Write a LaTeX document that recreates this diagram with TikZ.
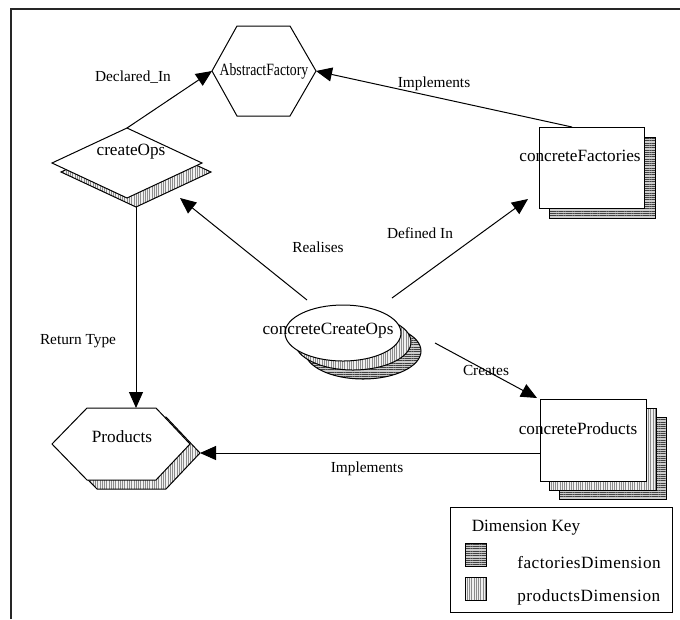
\documentclass[tikz,border=0pt]{standalone}
\usepackage{fontspec}
\usepackage{graphicx}
\setmainfont{Liberation Serif}
\usetikzlibrary{arrows.meta,patterns.meta}

\begin{document}
\begin{tikzpicture}[x=0.75pt,y=-0.75pt,
  outline/.style={draw=black,line width=0.75pt},
  plain/.style={outline,fill=white},
  prodshade/.style={outline,preaction={fill=gray!12},
    pattern={Lines[angle=90,distance=1.7pt,line width=0.3pt]},pattern color=black!45},
  factshade/.style={outline,preaction={fill=gray!40},
    pattern={Lines[angle=0,distance=1.7pt,line width=0.4pt]},pattern color=black!75},
  conn/.style={line width=0.75pt,-{Triangle[length=12pt,width=10.5pt]}},
  lbl/.style={font=\fontsize{12.9}{15}\selectfont,inner sep=0pt},
  elbl/.style={font=\fontsize{11.5}{13}\selectfont,inner sep=0pt},
  keylbl/.style={font=\fontsize{12.9}{15}\selectfont\addfontfeature{LetterSpace=3},inner sep=0pt,anchor=west},
]
\useasboundingbox (0,0) rectangle (680,619);

% page frame (top and left rules)
\draw[line width=1.1pt,black!85] (11,619) -- (11,9) -- (680,9);

% ---- AbstractFactory (hexagon)
\coordinate (afL) at (212,71);
\coordinate (afR) at (316,71);
\draw[plain] (237,26) -- (290,26) -- (afR) -- (290,116) -- (237,116) -- (afL) -- cycle;
\node[lbl] (af) at (264,71) {\scalebox{0.8}[1]{AbstractFactory}};

% ---- createOps (diamond with products shadow)
\draw[prodshade] (136,137) -- (211,172) -- (136,207) -- (61,172) -- cycle;
\draw[plain] (127,128) -- (202,163) -- (127,198) -- (52,163) -- cycle;
\coordinate (coT) at (127,128);
\coordinate (coB) at (136,207);
\coordinate (coRe) at (180,198);
\node[lbl] (co) at (131,152) {createOps};

% ---- Products (hexagon with products shadow)
\draw[prodshade] (97,417) -- (166,417) -- (200,453) -- (166,489) -- (97,489) -- (62,453) -- cycle;
\draw[plain] (87,408) -- (156,408) -- (190,444) -- (156,480) -- (87,480) -- (52,444) -- cycle;
\coordinate (pT) at (136,408);
\coordinate (pR) at (200,453);
\node[lbl] (pr) at (122,437) {Products};

% ---- concreteFactories (box with factories shadow)
\draw[factshade] (549,137) rectangle (655,218);
\draw[plain] (539,127) rectangle (644,208);
\coordinate (cfT) at (572,127);
\coordinate (cfIn) at (528,199);
\node[lbl] (cf) at (580,156) {concreteFactories};

% ---- concreteProducts (box with both shadows)
\draw[factshade] (559,417) rectangle (666,499);
\draw[prodshade] (549,408) rectangle (656,490);
\draw[plain] (540,399) rectangle (646,481);
\coordinate (cpTL) at (537,398);
\coordinate (cpL) at (540,453);
\node[lbl] (cp) at (578,429) {concreteProducts};

% ---- concreteCreateOps (ellipse with both shadows)
\draw[factshade] (363,351) ellipse [x radius=43.5pt,y radius=21pt];
\draw[prodshade] (353,342) ellipse [x radius=43.5pt,y radius=21pt];
\draw[plain] (343,333) ellipse [x radius=43.5pt,y radius=21pt];
\coordinate (ccA) at (307,300);
\coordinate (ccB) at (392,298);
\coordinate (ccC) at (435,343);
\node[lbl] (cc) at (328,331) {concreteCreateOps};

% ---- relations
\draw[conn] (coT) -- (afL);
\node[elbl] (l1) at (133,77) {Declared\_In};
\draw[conn] (cfT) -- (afR);
\node[elbl] (l2) at (434,84) {Implements};
\draw[conn] (coB) -- (pT);
\node[elbl] (l3) at (78,341) {Return Type};
\draw[conn] (ccA) -- (coRe);
\node[elbl] (l4) at (318,247) {Realises};
\draw[conn] (ccB) -- (cfIn);
\node[elbl] (l5) at (420,233) {Defined In};
\draw[conn] (ccC) -- (cpTL);
\node[elbl] (l6) at (486,370) {Creates};
\draw[conn] (cpL) -- (pR);
\node[elbl] (l7) at (367,469) {Implements};

% ---- key
\draw[outline] (450,507) rectangle (672,612);
\node[lbl] (kt) at (526,528) {Dimension Key};
\draw[factshade] (465,543) rectangle (486,566);
\draw[prodshade] (465,577) rectangle (486,600);
\node[keylbl] (kf) at (517,563) {factoriesDimension};
\node[keylbl] (kp) at (517,597) {productsDimension};
\end{tikzpicture}
\end{document}
